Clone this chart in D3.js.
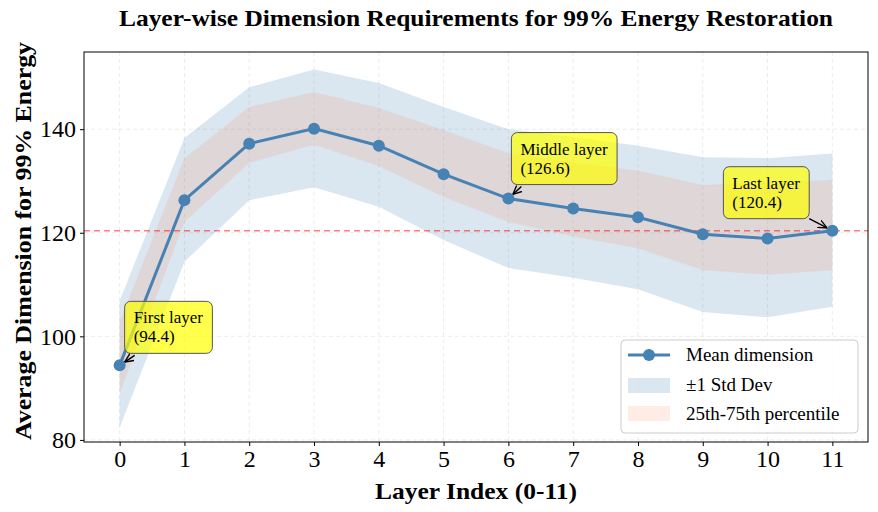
<!DOCTYPE html>
<html>
<head>
<meta charset="utf-8">
<script src="https://cdn.jsdelivr.net/npm/d3@7"></script>
<style>
  html, body { margin: 0; padding: 0; background: #fff; }
  svg { display: block; font-family: "Liberation Serif", "Times New Roman", serif; }
</style>
</head>
<body>
<div id="chart"></div>
<script>
// layer-wise data
var layers = [0, 1, 2, 3, 4, 5, 6, 7, 8, 9, 10, 11];
var meanDim = [94.4, 126.3, 137.2, 140.1, 136.8, 131.3, 126.6, 124.7, 123.0, 119.7, 118.9, 120.4];
var stdUpper = [106.8, 138.3, 148.1, 151.5, 148.9, 144.3, 140.0, 138.5, 136.8, 134.6, 134.4, 135.3];
var stdLower = [82.4, 114.4, 126.3, 128.8, 125.0, 118.6, 113.2, 111.3, 109.1, 104.7, 103.7, 105.7];
var pctUpper = [102.8, 134.4, 144.3, 147.2, 144.1, 139.8, 135.4, 133.5, 132.0, 129.2, 129.8, 130.2];
var pctLower = [89.0, 122.1, 133.5, 137.0, 132.9, 126.9, 122.1, 119.3, 117.0, 112.8, 111.9, 112.8];
var yTicks = [80, 100, 120, 140];
var refLine = 120.4;
var notes = [
  { layer: 0, lines: ["First layer", "(94.4)"], dx: 5, dy: -64 },
  { layer: 6, lines: ["Middle layer", "(126.6)"], dx: 3, dy: -66 },
  { layer: 11, lines: ["Last layer", "(120.4)"], dx: -109, dy: -64 }
];
var legendItems = ["Mean dimension", "\u00b11 Std Dev", "25th-75th percentile"];

var W = 878, H = 512;
var m = { left: 84, right: 10, top: 52, bottom: 70 };
var svgNS = d3.select("#chart").append("svg").attr("width", W).attr("height", H);

var x = d3.scaleLinear().domain([-0.55, 11.55]).range([m.left, W - m.right]);
var y = d3.scaleLinear().domain([79.6, 154.9]).range([H - m.bottom, m.top]);

var blue = "steelblue", pctColor = "coral";

function fitText(sel, len) { sel.attr("textLength", len).attr("lengthAdjust", "spacingAndGlyphs"); }

// grid
var grid = svgNS.append("g").attr("stroke", "#b0b0b0").attr("stroke-opacity", 0.3).attr("stroke-dasharray", "4,3").attr("stroke-width", 0.8);
layers.forEach(function (d) { grid.append("line").attr("x1", x(d)).attr("x2", x(d)).attr("y1", y.range()[1]).attr("y2", y.range()[0]); });
yTicks.forEach(function (d) { grid.append("line").attr("x1", x.range()[0]).attr("x2", x.range()[1]).attr("y1", y(d)).attr("y2", y(d)); });

// bands
var area = function (lo, hi) {
  return d3.area().x(function (d, i) { return x(layers[i]); })
    .y0(function (d, i) { return y(lo[i]); }).y1(function (d, i) { return y(hi[i]); })(layers);
};
svgNS.append("path").attr("d", area(stdLower, stdUpper)).attr("fill", blue).attr("fill-opacity", 0.2);
svgNS.append("path").attr("d", area(pctLower, pctUpper)).attr("fill", pctColor).attr("fill-opacity", 0.15);

// reference line
svgNS.append("line").attr("x1", x.range()[0]).attr("x2", x.range()[1]).attr("y1", y(refLine)).attr("y2", y(refLine))
  .attr("stroke", "red").attr("stroke-opacity", 0.5).attr("stroke-width", 1.6).attr("stroke-dasharray", "6,4");

// mean line + markers
var line = d3.line().x(function (d, i) { return x(layers[i]); }).y(function (d) { return y(d); });
svgNS.append("path").attr("d", line(meanDim)).attr("fill", "none").attr("stroke", blue).attr("stroke-width", 3);
svgNS.append("g").selectAll("circle").data(meanDim).enter().append("circle")
  .attr("cx", function (d, i) { return x(layers[i]); }).attr("cy", function (d) { return y(d); })
  .attr("r", 6).attr("fill", blue);

// axes
var xAxis = svgNS.append("g").attr("transform", "translate(0," + y.range()[0] + ")")
  .call(d3.axisBottom(x).tickValues(layers).tickSize(4).tickPadding(4).tickFormat(d3.format("d")));
var yAxis = svgNS.append("g").attr("transform", "translate(" + x.range()[0] + ",0)")
  .call(d3.axisLeft(y).tickValues(yTicks).tickSize(4).tickPadding(4));
[xAxis, yAxis].forEach(function (g) {
  g.select(".domain").remove();
  g.selectAll("text").attr("font-family", "Liberation Serif").attr("font-size", 24).attr("fill", "#000");
  g.selectAll("line").attr("stroke", "#000");
});
svgNS.append("rect").attr("x", x.range()[0]).attr("y", y.range()[1])
  .attr("width", x.range()[1] - x.range()[0]).attr("height", y.range()[0] - y.range()[1])
  .attr("fill", "none").attr("stroke", "#000").attr("stroke-width", 1);

// annotations
var defs = svgNS.append("defs");
defs.append("marker").attr("id", "arr").attr("viewBox", "0 0 10 10").attr("refX", 10).attr("refY", 5)
  .attr("markerWidth", 9).attr("markerHeight", 9).attr("markerUnits", "userSpaceOnUse").attr("orient", "auto")
  .append("path").attr("d", "M0,0.5L10,5L0,9.5").attr("fill", "none").attr("stroke", "#000").attr("stroke-width", 1.5);

notes.forEach(function (n) {
  var px = x(n.layer), py = y(meanDim[n.layer]);
  var g = svgNS.append("g");
  var bx = px + n.dx, by = py + n.dy;
  var rect = g.append("rect").attr("rx", 6).attr("ry", 6).attr("fill", "yellow").attr("fill-opacity", 0.7)
    .attr("stroke", "#555").attr("stroke-width", 1);
  var t = g.append("text").attr("font-size", 17).attr("fill", "#000");
  n.lines.forEach(function (s, i) {
    t.append("tspan").attr("x", bx + 9).attr("y", by + 22 + i * 19).text(s);
  });
  var bb = t.node().getBBox();
  var bw = bb.width + 18, bh = 52;
  rect.attr("x", bx).attr("y", by).attr("width", bw).attr("height", bh);
  // arrow from box edge toward the point
  var tx, ty;
  if (n.dx < 0) { tx = bx + bw; ty = by + bh; } else { tx = bx + 10; ty = by + bh + 2; }
  var ang = Math.atan2(py - ty, px - tx), dist = Math.hypot(px - tx, py - ty) - 6;
  g.append("line").attr("x1", tx).attr("y1", ty)
    .attr("x2", tx + Math.cos(ang) * dist).attr("y2", ty + Math.sin(ang) * dist)
    .attr("stroke", "#000").attr("stroke-width", 1.5).attr("marker-end", "url(#arr)");
});

// legend
var lg = svgNS.append("g").attr("transform", "translate(621,340)");
lg.append("rect").attr("width", 237).attr("height", 93).attr("rx", 4).attr("fill", "#fff").attr("fill-opacity", 0.8)
  .attr("stroke", "#ccc").attr("stroke-width", 1);
lg.append("line").attr("x1", 7).attr("x2", 49).attr("y1", 15).attr("y2", 15).attr("stroke", blue).attr("stroke-width", 3);
lg.append("circle").attr("cx", 28).attr("cy", 15).attr("r", 6).attr("fill", blue);
lg.append("rect").attr("x", 7).attr("y", 38).attr("width", 42).attr("height", 15).attr("fill", blue).attr("fill-opacity", 0.2);
lg.append("rect").attr("x", 7).attr("y", 66).attr("width", 42).attr("height", 15).attr("fill", pctColor).attr("fill-opacity", 0.15);
legendItems.forEach(function (s, i) {
  lg.append("text").attr("x", 65).attr("y", 21 + i * 29.5).attr("font-size", 19).attr("fill", "#000").text(s);
});

// titles
svgNS.append("text").attr("x", 476).attr("y", 26).attr("text-anchor", "middle").attr("font-size", 24)
  .attr("font-weight", "bold").text("Layer-wise Dimension Requirements for 99% Energy Restoration").call(fitText, 714);
svgNS.append("text").attr("x", 476).attr("y", 499).attr("text-anchor", "middle").attr("font-size", 24)
  .attr("font-weight", "bold").text("Layer Index (0-11)").call(fitText, 202);
svgNS.append("text").attr("transform", "translate(31,241) rotate(-90)").attr("text-anchor", "middle").attr("font-size", 24)
  .attr("font-weight", "bold").text("Average Dimension for 99% Energy").call(fitText, 398);
</script>
</body>
</html>
